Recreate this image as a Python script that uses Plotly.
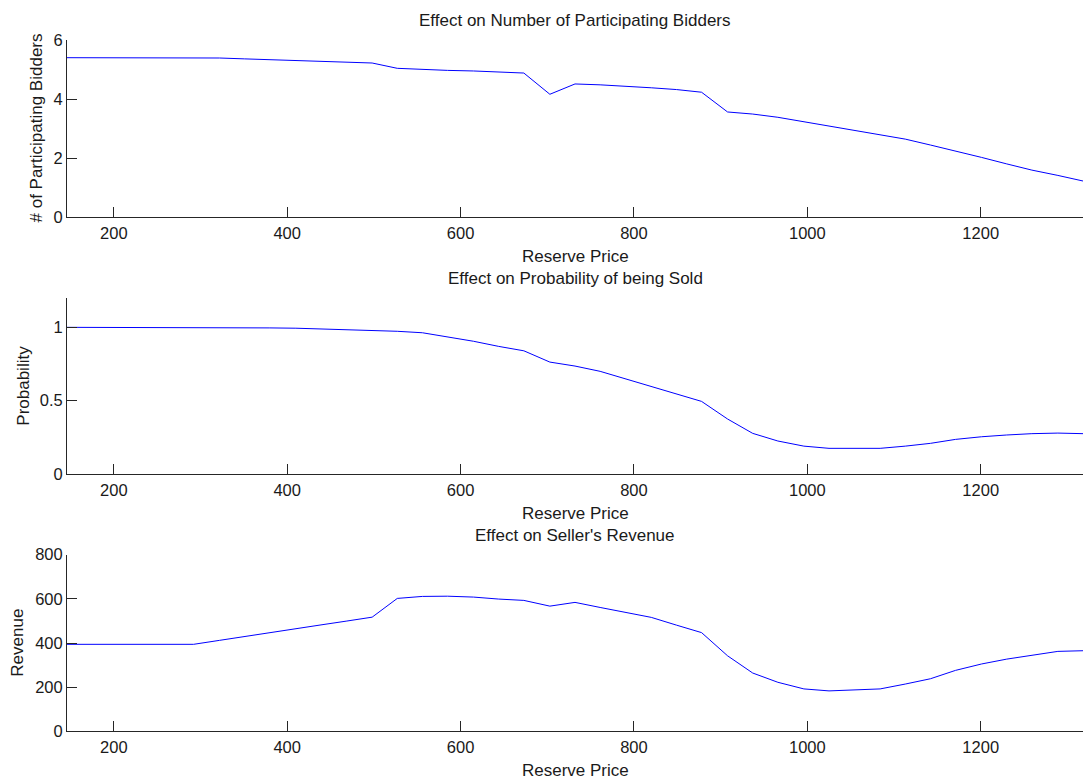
import plotly.graph_objects as go

reserve_price = [146, 175, 205, 234, 263, 292, 322, 351, 380, 410, 439, 468, 498, 527,
                 556, 585, 615, 644, 673, 703, 732, 761, 790, 820, 849, 878, 908, 937,
                 966, 996, 1025, 1054, 1084, 1113, 1142, 1171, 1201, 1230, 1259, 1289, 1318]

bidders = [5.40, 5.40, 5.40, 5.40, 5.40, 5.40, 5.39, 5.36, 5.33, 5.30, 5.28, 5.25, 5.22, 5.04,
           5.00, 4.97, 4.95, 4.92, 4.88, 4.16, 4.51, 4.48, 4.44, 4.38, 4.32, 4.23, 3.56, 3.49,
           3.38, 3.23, 3.08, 2.95, 2.81, 2.64, 2.44, 2.24, 2.02, 1.80, 1.59, 1.41, 1.22]

probability = [1.0, 1.0, 1.0, 1.0, 1.0, 1.0, 1.0, 0.998, 0.996, 0.994, 0.99, 0.985, 0.98, 0.973,
               0.963, 0.936, 0.905, 0.87, 0.84, 0.763, 0.736, 0.70, 0.65, 0.60, 0.55, 0.495, 0.375, 0.277,
               0.225, 0.19, 0.175, 0.175, 0.175, 0.19, 0.209, 0.236, 0.254, 0.266, 0.275, 0.279, 0.275]

revenue = [394, 394, 394, 394, 394, 394, 412, 430, 447, 464, 482, 499, 517, 602,
           611, 612, 608, 599, 593, 567, 584, 561, 540, 516, 481, 447, 342, 264,
           222, 192, 183, 186, 192, 214, 238, 276, 305, 327, 344, 362, 365]

titles = ["Effect on Number of Participating Bidders",
          "Effect on Probability of being Sold",
          "Effect on Seller's Revenue"]
ylabels = ["# of Participating Bidders", "Probability", "Revenue"]
x_label = "Reserve Price"
x_ticks = [200, 400, 600, 800, 1000, 1200]
y_ticks = [[0, 2, 4, 6], [0, 0.5, 1], [0, 200, 400, 600, 800]]
y_ranges = [[0, 6], [0, 1.2], [0, 800]]

W, H = 1083, 783
FONT = "Liberation Sans, Arial, sans-serif"
AX = "#262626"
TXT = "#1a1a1a"
FS = 17
TFS = 16.5

# pixel geometry of each panel (top, bottom) in px
panels = [(40, 217), (298, 474), (554.7, 731.3)]
left_px = 67
ylabel_x = [36, 22.7, 16.7]

fig = go.Figure()
series = [bidders, probability, revenue]
for i, ys in enumerate(series):
    n = "" if i == 0 else str(i + 1)
    fig.add_trace(go.Scatter(x=reserve_price, y=ys, mode="lines",
                             line=dict(color="#0000ff", width=1),
                             xaxis="x" + n, yaxis="y" + n, showlegend=False,
                             hoverinfo="skip"))
    top, bot = panels[i]
    fig.update_layout(**{
        "xaxis" + n: dict(domain=[left_px / W, 1], range=[146, 1318], anchor="y" + n,
                          tickvals=x_ticks, ticks="inside", ticklen=10, tickcolor=AX,
                          showline=True, linecolor=AX, linewidth=1, showgrid=False,
                          zeroline=False, tickfont=dict(size=TFS, color=TXT, family=FONT),
                          ticklabelstandoff=1, automargin=False),
        "yaxis" + n: dict(domain=[(H - bot) / H, (H - top) / H], range=y_ranges[i],
                          anchor="x" + n, tickvals=y_ticks[i], ticks="inside", ticklen=10,
                          tickcolor=AX, showline=True, linecolor=AX, linewidth=1,
                          showgrid=False, zeroline=False, automargin=False,
                          tickfont=dict(size=TFS, color=TXT, family=FONT)),
    })
    # title
    fig.add_annotation(text=titles[i], x=(left_px + W) / 2 / W, y=(H - (top - 19.5)) / H,
                       xref="paper", yref="paper", showarrow=False,
                       font=dict(size=FS, color=TXT, family=FONT),
                       xanchor="center", yanchor="middle")
    # x label
    fig.add_annotation(text=x_label, x=(left_px + W) / 2 / W, y=(H - (bot + 39)) / H,
                       xref="paper", yref="paper", showarrow=False,
                       font=dict(size=FS, color=TXT, family=FONT),
                       xanchor="center", yanchor="middle")
    # y label
    fig.add_annotation(text=ylabels[i], x=ylabel_x[i] / W, y=(H - (top + bot) / 2) / H,
                       xref="paper", yref="paper", showarrow=False, textangle=-90,
                       font=dict(size=FS, color=TXT, family=FONT),
                       xanchor="center", yanchor="middle")

fig.update_layout(width=W, height=H, margin=dict(l=0, r=0, t=0, b=0, pad=0, autoexpand=False),
                  paper_bgcolor="white", plot_bgcolor="white", hovermode=False,
                  font=dict(family=FONT, size=FS, color=TXT))

fig.write_html("out.html", config={"displayModeBar": False},
               post_script="document.body.style.margin='0';document.body.style.overflow='hidden';")
